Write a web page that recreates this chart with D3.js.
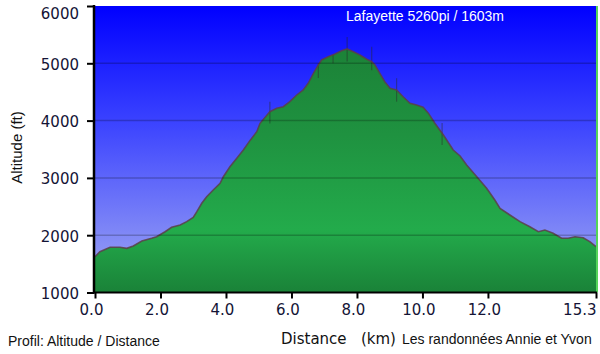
<!DOCTYPE html>
<html>
<head>
<meta charset="utf-8">
<script src="https://cdn.jsdelivr.net/npm/d3@7"></script>
<style>
  html, body { margin: 0; padding: 0; background: #fff; }
  svg { display: block; }
</style>
</head>
<body>
<svg width="600" height="354"></svg>
<script>
// profile: distance (km) / altitude (ft)
const distance = [0, 0.15, 0.46, 0.76, 0.97, 1.17, 1.43, 1.73, 1.88, 2.14, 2.34, 2.6, 2.8, 3.0, 3.11,
  3.26, 3.41, 3.61, 3.82, 3.92, 4.12, 4.33, 4.53, 4.73, 4.94, 5.04, 5.34, 5.55, 5.75, 5.95,
  6.16, 6.36, 6.51, 6.67, 6.82, 6.92, 7.12, 7.33, 7.53, 7.70, 7.89, 8.09, 8.30, 8.45, 8.55,
  8.70, 8.85, 9.01, 9.21, 9.41, 9.62, 9.82, 10.02, 10.18, 10.38, 10.64, 10.94, 11.15, 11.35, 11.66,
  11.96, 12.21, 12.37, 12.67, 12.98, 13.28, 13.54, 13.74, 13.99, 14.25, 14.45, 14.66, 14.91, 15.11, 15.30];
const altitude = [1625, 1712, 1789, 1789, 1771, 1812, 1899, 1946, 1974, 2061, 2138, 2178, 2236, 2312, 2410,
  2557, 2672, 2789, 2906, 3021, 3195, 3342, 3487, 3650, 3806, 3953, 4155, 4215, 4243, 4330,
  4447, 4534, 4651, 4825, 4970, 5058, 5115, 5162, 5220, 5250, 5202, 5145, 5070, 5028, 4970,
  4825, 4679, 4564, 4534, 4417, 4302, 4272, 4232, 4130, 3953, 3749, 3487, 3382, 3225, 3021,
  2818, 2614, 2469, 2353, 2236, 2148, 2061, 2091, 2033, 1946, 1946, 1974, 1956, 1887, 1799];

// GPS spikes (thin vertical marks)
const spikeDist = [5.34, 6.82, 7.27, 7.70, 8.45, 9.21, 10.6];
const spikeLow  = [3950, 4745, 5000, 5030, 4880, 4330, 3575];
const spikeHigh = [4330, 5000, 5145, 5460, 5290, 4740, 3960];

const yTicks = [1000, 2000, 3000, 4000, 5000, 6000];
const xTicks = [0, 2, 4, 6, 8, 10, 12, 15.3];

const title = "Lafayette 5260pi / 1603m";

const svg = d3.select("svg");

const x = d3.scaleLinear().domain([0, 15.3]).range([95, 596]);
const y = d3.scaleLinear().domain([1000, 6000]).range([292.5, 6]);

const profile = distance.map((d, i) => ({ d: d, a: altitude[i] }));

const defs = svg.append("defs");
const sky = defs.append("linearGradient").attr("id", "sky")
  .attr("gradientUnits", "userSpaceOnUse")
  .attr("x1", 0).attr("y1", y(6000)).attr("x2", 0).attr("y2", y(1000));
sky.append("stop").attr("offset", 0).attr("stop-color", "#0000ff");
sky.append("stop").attr("offset", 0.4).attr("stop-color", "#3a42ff");
sky.append("stop").attr("offset", 1).attr("stop-color", "#a4acf2");

const ground = defs.append("linearGradient").attr("id", "ground")
  .attr("gradientUnits", "userSpaceOnUse")
  .attr("x1", 0).attr("y1", y(6000)).attr("x2", 0).attr("y2", y(1000));
ground.append("stop").attr("offset", 0).attr("stop-color", "#1a7a33");
ground.append("stop").attr("offset", 0.45).attr("stop-color", "#1f9240");
ground.append("stop").attr("offset", 0.78).attr("stop-color", "#23ab4b");
ground.append("stop").attr("offset", 1).attr("stop-color", "#1a8238");

// plot background
svg.append("rect")
  .attr("x", x(0)).attr("y", y(6000))
  .attr("width", x(15.3) - x(0)).attr("height", y(1000) - y(6000))
  .attr("fill", "url(#sky)");

const area = d3.area()
  .x(p => x(p.d))
  .y0(y(1000))
  .y1(p => y(p.a));

svg.append("path")
  .datum(profile)
  .attr("d", area)
  .attr("fill", "url(#ground)");

// spikes
svg.append("g")
  .selectAll("line")
  .data(spikeDist)
  .join("line")
  .attr("x1", d => x(d)).attr("x2", d => x(d))
  .attr("y1", (d, i) => y(spikeLow[i]))
  .attr("y2", (d, i) => y(spikeHigh[i]))
  .attr("stroke", "#2a2a2a")
  .attr("stroke-opacity", 0.45)
  .attr("stroke-width", 1.2);

svg.append("path")
  .datum(profile)
  .attr("d", d3.line().x(p => x(p.d)).y(p => y(p.a)))
  .attr("fill", "none")
  .attr("stroke", "#5a4048")
  .attr("stroke-opacity", 0.85)
  .attr("stroke-width", 1.6);

// grid lines
svg.append("g")
  .selectAll("line")
  .data(yTicks.filter(t => t > 1000 && t < 6000))
  .join("line")
  .attr("x1", x(0)).attr("x2", x(15.3))
  .attr("y1", d => y(d)).attr("y2", d => y(d))
  .attr("stroke", "#000")
  .attr("stroke-opacity", 0.22)
  .attr("stroke-width", 1.5);

// right border
svg.append("line")
  .attr("x1", 597).attr("x2", 597)
  .attr("y1", y(6000)).attr("y2", y(1000))
  .attr("stroke", "#55d45a").attr("stroke-width", 2);

// y axis
const yAxis = svg.append("g").attr("transform", "translate(94,0)")
  .call(d3.axisLeft(y).tickValues(yTicks).tickSize(7).tickFormat(d3.format("d")));
yAxis.select(".domain").attr("stroke", "#000").attr("stroke-width", 2.5)
  .attr("d", `M0,${y(6000) - 1}V${y(1000) + 1}`);
yAxis.selectAll(".tick line").attr("stroke", "#000").attr("stroke-width", 2);
yAxis.selectAll(".tick text")
  .attr("x", -15)
  .attr("dy", d => d === 6000 ? "0.85em" : "0.4em")
  .attr("fill", "#141436")
  .style("font-family", "'DejaVu Sans', Verdana, sans-serif")
  .style("font-size", "15px");

// x axis
const xAxis = svg.append("g").attr("transform", `translate(0,${y(1000)})`)
  .call(d3.axisBottom(x).tickValues(xTicks).tickSize(6).tickFormat(d3.format(".1f")));
xAxis.select(".domain").attr("stroke", "#000").attr("stroke-width", 2)
  .attr("d", `M${x(0) - 1},0H${x(15.3) + 1}`);
xAxis.selectAll(".tick line").attr("stroke", "#000").attr("stroke-width", 2);
xAxis.selectAll(".tick text")
  .attr("y", 12)
  .attr("dx", d => d === 15.3 ? 0 : -4)
  .attr("text-anchor", d => d === 15.3 ? "end" : "middle")
  .attr("fill", "#141436")
  .style("font-family", "'DejaVu Sans', Verdana, sans-serif")
  .style("font-size", "15px");
xAxis.select(".tick:last-of-type text").attr("x", 0);

// title inside the plot
svg.append("text")
  .attr("x", 346).attr("y", 21)
  .attr("fill", "#fff")
  .style("font-family", "'Liberation Sans', Arial, sans-serif")
  .style("font-size", "14px")
  .text(title);

// axis titles
svg.append("text")
  .attr("transform", "translate(22,147.5) rotate(-90)")
  .attr("text-anchor", "middle")
  .attr("fill", "#111")
  .style("font-family", "'Liberation Sans', Arial, sans-serif")
  .style("font-size", "15px")
  .text("Altitude (ft)");

svg.append("text")
  .attr("x", 281).attr("y", 343.5)
  .attr("fill", "#111")
  .style("font-family", "'DejaVu Sans', Verdana, sans-serif")
  .style("font-size", "15px")
  .style("white-space", "pre")
  .text("Distance   (km)");

svg.append("text")
  .attr("x", 8).attr("y", 346)
  .attr("fill", "#111")
  .style("font-family", "'Liberation Sans', Arial, sans-serif")
  .style("font-size", "14px")
  .text("Profil: Altitude / Distance");

svg.append("text")
  .attr("x", 402).attr("y", 343.5)
  .attr("fill", "#111")
  .style("font-family", "'Liberation Sans', Arial, sans-serif")
  .style("font-size", "14px")
  .text("Les randonnées Annie et Yvon");
</script>
</body>
</html>
